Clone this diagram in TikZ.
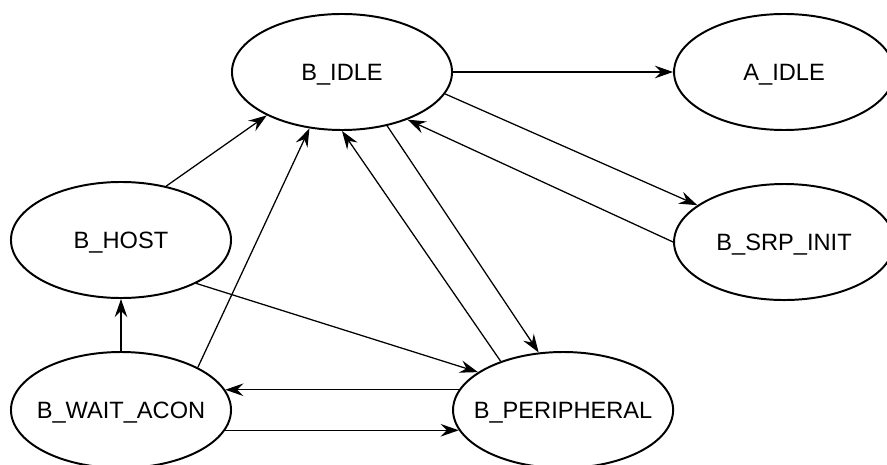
\documentclass[tikz,border=0pt]{standalone}
\usepackage{fontspec}
\setmainfont{Liberation Sans}
\usetikzlibrary{
  shapes.geometric,
  arrows.meta,
  positioning
}
\tikzset{
  % State ellipse: fixed size whatever the text
  fsm/.style={
    ellipse, draw=black, line width=1.4pt,
    minimum width=5.5cm, minimum height=2.9cm,
    inner sep=-0.8cm, text depth=0pt, align=center,
    font=\fontsize{16.8}{20}\selectfont
  },
  % Transition arrow
  arr/.style={
    -{Stealth[length=13pt,width=9pt,inset=4.5pt]},
    line width=0.9pt, color=black
  }
}

\begin{document}
\begin{tikzpicture}[x=0.025cm, y=0.025cm]
  \useasboundingbox (0,0) rectangle (887,-465);

  \node[fsm] at (342,-72) (bidle) {B\_IDLE};
  \node[fsm, right=5.5cm of bidle] (aidle) {A\_IDLE};
  \node[fsm, below=1.3cm of aidle] (srp)   {B\_SRP\_INIT};
  \node[fsm] at (121,-240) (host) {B\_HOST};
  \node[fsm, below=1.3cm of host]  (wait)  {B\_WAIT\_ACON};
  \node[fsm, right=5.5cm of wait]  (per)   {B\_PERIPHERAL};

  \draw[arr] (bidle) -- (aidle);
  \draw[arr] (bidle.-12) -- (srp.157);
  \draw[arr] (srp.180) -- (bidle.-36);
  \draw[arr] (host.50) -- (bidle.210);
  \draw[arr] (wait.29) -- (bidle.240);
  \draw[arr] (per.142) -- (bidle.-90);
  \draw[arr] (bidle.-50) -- (per.113);
  \draw[arr] (host.-30) -- (per.156);
  \draw[arr] (wait) -- (host);
  \draw[arr] (per.169) -- (wait.11);
  \draw[arr] (wait.-11) -- (per.191);
\end{tikzpicture}
\end{document}
